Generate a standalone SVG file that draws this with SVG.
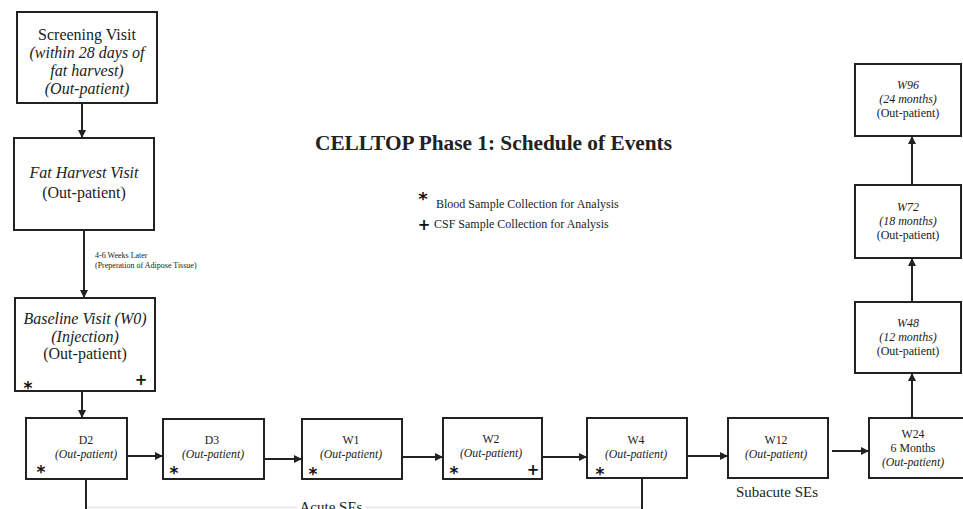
<svg xmlns="http://www.w3.org/2000/svg" width="963" height="509" viewBox="0 0 963 509">
<style>
.box{fill:#fff;stroke:#222;stroke-width:2}
.t{font-family:"Liberation Serif","Times New Roman",serif;fill:#222;text-anchor:middle}
.b16{font-size:16px}
.s11{font-size:11.8px}
.s12{font-size:12px}
.i{font-style:italic}
.sym{font-family:"DejaVu Sans",sans-serif;fill:#111;text-anchor:middle;font-weight:bold}
.conn{stroke:#222;stroke-width:2;fill:none}
.faint{stroke:#e6e6e6;stroke-width:1.5;fill:none}
</style>
<defs>
<marker id="ah" viewBox="0 0 10 10" refX="10" refY="5" markerWidth="8" markerHeight="8" markerUnits="userSpaceOnUse" orient="auto">
<path d="M0,0 L10,5 L0,10 z" fill="#222"/>
</marker>
</defs>
<rect width="963" height="509" fill="#fff"/>

<text class="t" x="493.5" y="150" font-size="22" font-weight="bold" textLength="357" lengthAdjust="spacingAndGlyphs">CELLTOP Phase 1: Schedule of Events</text>

<g id="legend">
<text class="sym" x="423" y="205" font-size="18">*</text>
<text class="t s12" x="436" y="208" style="text-anchor:start">Blood Sample Collection for Analysis</text>
<text class="sym" x="424" y="230" font-size="15">+</text>
<text class="t s12" x="434" y="228" style="text-anchor:start">CSF Sample Collection for Analysis</text>
</g>

<g id="connectors">
<line class="conn" x1="82" y1="103" x2="82" y2="138" marker-end="url(#ah)"/>
<line class="conn" x1="84" y1="230" x2="84" y2="298" marker-end="url(#ah)"/>
<line class="conn" x1="82" y1="391" x2="82" y2="418" marker-end="url(#ah)"/>
<line class="conn" x1="127" y1="456" x2="163" y2="456" marker-end="url(#ah)"/>
<line class="conn" x1="264" y1="459" x2="302" y2="459" marker-end="url(#ah)"/>
<line class="conn" x1="402" y1="457" x2="443" y2="457" marker-end="url(#ah)"/>
<line class="conn" x1="542" y1="457" x2="587" y2="457" marker-end="url(#ah)"/>
<line class="conn" x1="687" y1="456" x2="728" y2="456" marker-end="url(#ah)"/>
<line class="conn" x1="832" y1="451" x2="869" y2="451" marker-end="url(#ah)"/>
<line class="conn" x1="912" y1="418" x2="912" y2="373" marker-end="url(#ah)"/>
<line class="conn" x1="912" y1="302" x2="912" y2="258" marker-end="url(#ah)"/>
<line class="conn" x1="912" y1="185" x2="912" y2="136" marker-end="url(#ah)"/>
<line class="conn" x1="86" y1="479" x2="86" y2="509"/>
<line class="conn" x1="642" y1="478" x2="642" y2="509"/>
<line class="faint" x1="87" y1="507.5" x2="297" y2="507.5"/>
<line class="faint" x1="366" y1="507.5" x2="641" y2="507.5"/>
<text class="t" x="95" y="258" font-size="8" style="text-anchor:start">4-6 Weeks Later</text>
<text class="t" x="95" y="268" font-size="8" style="text-anchor:start">(Preperation of Adipose Tissue)</text>
</g>

<g id="screening">
<rect class="box" x="17" y="12" width="140" height="91"/>
<text class="t b16" x="87" y="40">Screening Visit</text>
<text class="t b16 i" x="87" y="58">(within 28 days of</text>
<text class="t b16 i" x="87" y="76">fat harvest)</text>
<text class="t b16 i" x="87" y="94">(Out-patient)</text>
</g>

<g id="fat-harvest">
<rect class="box" x="14" y="138" width="140" height="92"/>
<text class="t b16 i" x="84" y="178">Fat Harvest Visit</text>
<text class="t b16" x="84" y="198">(Out-patient)</text>
</g>

<g id="baseline">
<rect class="box" x="15" y="298" width="140" height="93"/>
<text class="t b16 i" x="85" y="324">Baseline Visit (W0)</text>
<text class="t b16 i" x="85" y="342">(Injection)</text>
<text class="t b16" x="85" y="359">(Out-patient)</text>
<text class="sym" x="28" y="394" font-size="17">*</text>
<text class="sym" x="141" y="385" font-size="15">+</text>
</g>

<g id="d2">
<rect class="box" x="26" y="418" width="101" height="61"/>
<text class="t s11" x="86" y="444">D2</text>
<text class="t s11 i" x="86" y="458">(Out-patient)</text>
<text class="sym" x="41" y="478" font-size="17">*</text>
</g>

<g id="d3">
<rect class="box" x="163" y="419" width="101" height="60"/>
<text class="t s11" x="212" y="444">D3</text>
<text class="t s11 i" x="213" y="458">(Out-patient)</text>
<text class="sym" x="174" y="479" font-size="17">*</text>
</g>

<g id="w1">
<rect class="box" x="302" y="419" width="100" height="60"/>
<text class="t s11" x="351" y="444">W1</text>
<text class="t s11 i" x="351" y="458">(Out-patient)</text>
<text class="sym" x="313" y="480" font-size="17">*</text>
</g>

<g id="w2">
<rect class="box" x="443" y="418" width="99" height="61"/>
<text class="t s11" x="491" y="443">W2</text>
<text class="t s11 i" x="491" y="457">(Out-patient)</text>
<text class="sym" x="454" y="479" font-size="17">*</text>
<text class="sym" x="533" y="475" font-size="15">+</text>
</g>

<g id="w4">
<rect class="box" x="587" y="418" width="100" height="60"/>
<text class="t s11" x="636" y="444">W4</text>
<text class="t s11 i" x="636" y="458">(Out-patient)</text>
<text class="sym" x="600" y="480" font-size="17">*</text>
</g>

<g id="w12">
<rect class="box" x="728" y="418" width="100" height="60"/>
<text class="t s11" x="776" y="444">W12</text>
<text class="t s11 i" x="776" y="458">(Out-patient)</text>
<text class="t" x="777" y="497" font-size="15">Subacute SEs</text>
</g>

<g id="w24">
<rect class="box" x="869" y="418" width="100" height="60"/>
<text class="t s11" x="913" y="438">W24</text>
<text class="t s11" x="913" y="452">6 Months</text>
<text class="t s11 i" x="913" y="466">(Out-patient)</text>
</g>

<g id="acute-label">
<text class="t" x="331" y="512" font-size="15">Acute SEs</text>
</g>

<g id="w48">
<rect class="box" x="855" y="302" width="106" height="71"/>
<text class="t s12 i" x="908" y="327">W48</text>
<text class="t s12 i" x="908" y="341">(12 months)</text>
<text class="t s12" x="908" y="355">(Out-patient)</text>
</g>

<g id="w72">
<rect class="box" x="855" y="185" width="106" height="73"/>
<text class="t s12 i" x="908" y="211">W72</text>
<text class="t s12 i" x="908" y="225">(18 months)</text>
<text class="t s12" x="908" y="239">(Out-patient)</text>
</g>

<g id="w96">
<rect class="box" x="855" y="64" width="106" height="72"/>
<text class="t s12 i" x="908" y="89">W96</text>
<text class="t s12 i" x="908" y="103">(24 months)</text>
<text class="t s12" x="908" y="117">(Out-patient)</text>
</g>
</svg>
